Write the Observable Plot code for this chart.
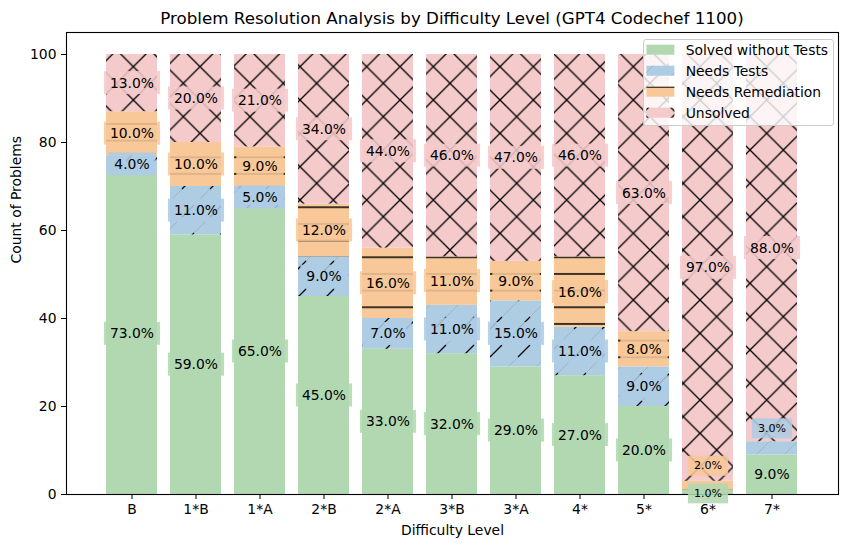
<!DOCTYPE html>
<html><head><meta charset="utf-8">
<script src="https://cdn.jsdelivr.net/npm/d3@7"></script>
<script src="https://cdn.jsdelivr.net/npm/@observablehq/plot@0.6"></script>
<style>
body{margin:0;background:#fff;font-family:"DejaVu Sans",sans-serif;position:relative;}
#title{height:26px;position:relative;}
#title div{position:absolute;left:66px;width:772px;top:8px;text-align:center;font-size:16.7px;line-height:20px;white-space:nowrap;color:#000;}
#chart svg{display:block;}
#legend{position:absolute;left:643.3px;top:39.3px;width:191px;height:86.4px;box-sizing:border-box;
  border:1px solid #cccccc;border-radius:3px;background:rgba(255,255,255,0.8);}
#legend svg{position:absolute;left:-1px;top:-1px;overflow:visible;}
</style></head><body>
<div id="title"><div>Problem Resolution Analysis by Difficulty Level (GPT4 Codechef 1100)</div></div>
<div id="chart"></div>
<div id="legend"></div>
<script>
// ---- data ----
const categories = ["B","1*B","1*A","2*B","2*A","3*B","3*A","4*","5*","6*","7*"];
const seriesNames = ["Solved without Tests","Needs Tests","Needs Remediation","Unsolved"];
const solved           = [73,59,65,45,33,32,29,27,20, 1, 9];
const needsTests       = [ 4,11, 5, 9, 7,11,15,11, 9, 0, 3];
const needsRemediation = [10,10, 9,12,16,11, 9,16, 8, 2, 0];
const unsolved         = [13,20,21,34,44,46,47,46,63,97,88];
const yTicks = [0,20,40,60,80,100];

// ---- styling ----
const seriesValues = [solved, needsTests, needsRemediation, unsolved];
const seriesColors = ["#b2d8b1","#aecde3","#f8c899","#f4cacb"];
const seriesHatch  = [null,"hatch-slash","hatch-dash","hatch-cross"];

const rows = [];
categories.forEach((c,i)=>{
  let base = 0;
  seriesValues.forEach((vals,s)=>{
    const v = vals[i];
    rows.push({cat:c, s, value:v, y1:base, y2:base+v});
    base += v;
  });
});
const labels = rows.filter(d=>d.value>0);
const normalLabels = labels.filter(d=>d.value>3);
const smallBottom  = labels.filter(d=>d.value<=3 && d.y1===0);
const smallUp      = labels.filter(d=>d.value<=3 && d.y1>0);
const fmt = d => d.value.toFixed(1) + "%";
const mid = d => (d.y1+d.y2)/2;

const marks = [];
seriesNames.forEach((name,s)=>{
  const data = rows.filter(d=>d.s===s && d.value>0);
  marks.push(Plot.barY(data, {x:"cat", y1:"y1", y2:"y2", fill:seriesColors[s]}));
  if (seriesHatch[s]) marks.push(Plot.barY(data, {x:"cat", y1:"y1", y2:"y2", fill:`url(#${seriesHatch[s]})`}));
});
marks.push(Plot.frame({stroke:"black", strokeWidth:1.1}));
marks.push(Plot.axisY({ticks:yTicks, tickSize:5, tickPadding:5, label:null}));
marks.push(Plot.axisX({tickSize:5, tickPadding:5, label:null}));
marks.push(Plot.text(["Difficulty Level"], {frameAnchor:"bottom", lineAnchor:"middle", dy:36, text:d=>d, fontSize:13.9}));
marks.push(Plot.text(["Count of Problems"], {frameAnchor:"left", lineAnchor:"middle", dx:-50, rotate:-90, text:d=>d, fontSize:13.9}));
marks.push(Plot.text(normalLabels, {x:"cat", y:mid, text:fmt, fontSize:13.9, fill:"black", ariaDescription:"pct-label-normal"}));
marks.push(Plot.text(smallBottom, {x:"cat", y:mid, text:fmt, fontSize:11.1, dy:1, fill:"black", ariaDescription:"pct-label-small-bottom"}));
marks.push(Plot.text(smallUp, {x:"cat", y:mid, text:fmt, fontSize:11.1, dy:-20, fill:"black", ariaDescription:"pct-label-small-up"}));

const svgEl = Plot.plot({
  width: 850, height: 521,
  marginLeft: 66, marginRight: 12, marginTop: 6, marginBottom: 53,
  style: {fontFamily:"DejaVu Sans, sans-serif", fontSize:"13.9px", color:"black", background:"white"},
  x: {type:"band", domain:categories, paddingInner:0.2, paddingOuter:0.54, label:null},
  y: {domain:[0,105], label:null},
  marks
});
document.getElementById("chart").appendChild(svgEl);

// ---- hatch patterns ----
const svg = d3.select(svgEl);
const defs = svg.insert("defs", ":first-child");
const s = 100/3;
const pc = defs.append("pattern").attr("id","hatch-cross").attr("patternUnits","userSpaceOnUse")
  .attr("width",s).attr("height",s).attr("patternTransform","translate(16.67,24)");
pc.append("path").attr("d",`M${-1},${-1}L${s+1},${s+1}M${-1},${s+1}L${s+1},${-1}`)
  .attr("stroke","black").attr("stroke-width",1.3).attr("fill","none");
const h = 50/3;
const pd = defs.append("pattern").attr("id","hatch-dash").attr("patternUnits","userSpaceOnUse")
  .attr("width",10).attr("height",h).attr("patternTransform","translate(0,14.6)");
pd.append("path").attr("d","M-1,0L11,0M-1,"+h+"L11,"+h).attr("stroke","black").attr("stroke-width",1.4).attr("fill","none");
const t = 28;
const ps = defs.append("pattern").attr("id","hatch-slash").attr("patternUnits","userSpaceOnUse")
  .attr("width",t).attr("height",t).attr("patternTransform","translate(6,3)");
ps.append("path").attr("d",`M-1,${t+1}L${t+1},-1`).attr("stroke","#7f8f99").attr("stroke-opacity",0.35).attr("stroke-width",1).attr("fill","none");
ps.append("path").attr("d",`M8,20L20,8`).attr("stroke","black").attr("stroke-width",1.3).attr("fill","none");

// ---- label boxes ----
function boxes(desc, data, hgt){
  const g = svg.select(`g[aria-description="${desc}"]`);
  g.selectAll("text").each(function(_, i){
    const d = data[i];
    if (!d) return;
    const bb = this.getBBox();
    const w = bb.width + 12;
    const cx = bb.x + bb.width/2, cy = bb.y + bb.height/2;
    const r = document.createElementNS("http://www.w3.org/2000/svg","rect");
    r.setAttribute("x", cx - w/2); r.setAttribute("y", cy - hgt/2);
    r.setAttribute("width", w); r.setAttribute("height", hgt);
    r.setAttribute("fill", seriesColors[d.s]); r.setAttribute("fill-opacity", 0.87);
    const tr = this.getAttribute("transform");
    if (tr) r.setAttribute("transform", tr);
    this.parentNode.insertBefore(r, this);
  });
}
boxes("pct-label-normal", normalLabels, 23);
boxes("pct-label-small-bottom", smallBottom, 20);
boxes("pct-label-small-up", smallUp, 20);

// ---- legend (HTML box with small svg) ----
const lsvg = d3.select("#legend").append("svg").attr("width",191).attr("height",86.4);
seriesNames.forEach((name,i)=>{
  const cy = 10.7 + i*21;
  lsvg.append("rect").attr("x",3.4).attr("y",cy-5).attr("width",28).attr("height",10).attr("fill",seriesColors[i]);
  if (seriesHatch[i]) lsvg.append("rect").attr("x",3.4).attr("y",cy-5).attr("width",28).attr("height",10).attr("fill",`url(#${seriesHatch[i]})`);
  lsvg.append("text").attr("x",42.7).attr("y",cy).attr("dy","0.35em").attr("text-anchor","start")
    .attr("font-size",13.9).attr("font-family","DejaVu Sans, sans-serif").attr("fill","black").text(name);
});
</script>
</body></html>
